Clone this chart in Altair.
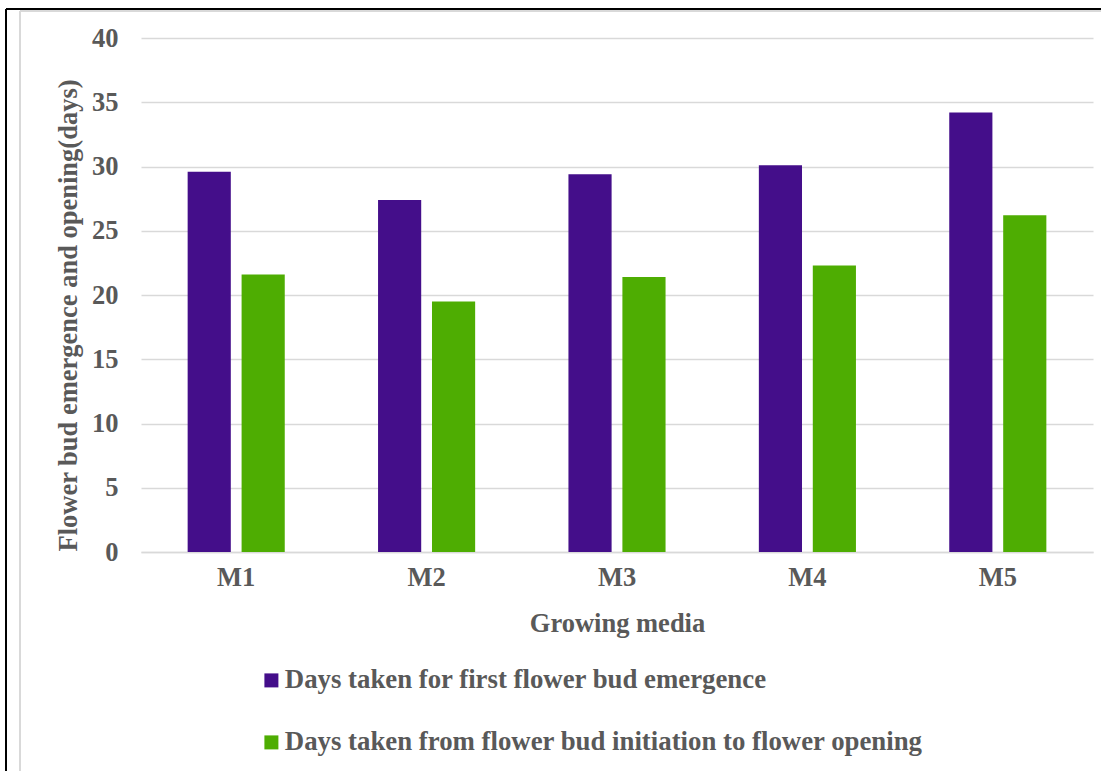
import altair as alt
import pandas as pd

# Growing media treatments and the two measured durations (days)
media = ["M1", "M2", "M3", "M4", "M5"]
series_names = [
    "Days taken for first flower bud emergence",
    "Days taken from flower bud initiation to flower opening",
]
bud_emergence = [29.6, 27.4, 29.4, 30.1, 34.2]
bud_to_opening = [21.6, 19.5, 21.4, 22.3, 26.2]
y_ticks = [0, 5, 10, 15, 20, 25, 30, 35, 40]
colors = ["#440E8A", "#4EAD02"]

rows = []
for m, a, b in zip(media, bud_emergence, bud_to_opening):
    rows.append({"media": m, "series": series_names[0], "days": a})
    rows.append({"media": m, "series": series_names[1], "days": b})
df = pd.DataFrame(rows)

FONT = "Liberation Serif"
TEXT = "#595959"
GRID = "#D9D9D9"
FS = 26.5

bars = alt.Chart(df).mark_bar().encode(
    x=alt.X(
        "media:N",
        sort=media,
        title="Growing media",
        scale=alt.Scale(paddingInner=0.49, paddingOuter=0.245),
        axis=alt.Axis(
            labelAngle=0,
            ticks=False,
            domainColor=GRID,
            domainWidth=1.5,
            labelPadding=12,
            titlePadding=20,
        ),
    ),
    xOffset=alt.XOffset(
        "series:N",
        sort=series_names,
        scale=alt.Scale(paddingInner=0.2, paddingOuter=0),
    ),
    y=alt.Y(
        "days:Q",
        title="Flower bud emergence and opening(days)",
        scale=alt.Scale(domain=[0, 40]),
        axis=alt.Axis(
            values=y_ticks,
            domain=False,
            ticks=False,
            gridColor=GRID,
            gridWidth=1.5,
            labelPadding=23,
            titlePadding=9,
            titleY=277,
        ),
    ),
    color=alt.Color(
        "series:N",
        sort=series_names,
        scale=alt.Scale(domain=series_names, range=colors),
        legend=alt.Legend(
            title=None,
            orient="none",
            legendX=117,
            legendY=629,
            padding=0,
            direction="vertical",
            symbolType="square",
            symbolSize=196,
            symbolStrokeWidth=0,
            labelOffset=0,
            rowPadding=34,
            labelFont=FONT,
            labelFontSize=26.8,
            labelFontWeight="bold",
            labelColor=TEXT,
            labelLimit=900,
        ),
    ),
)

# Outer frame lines around the figure
frame_black_left = alt.Chart(df).mark_rule(color="black", strokeWidth=2).encode(
    x=alt.value(-135), y=alt.value(-29), y2=alt.value(733)
)
frame_black_top = alt.Chart(df).mark_rule(color="black", strokeWidth=2).encode(
    x=alt.value(-135), x2=alt.value(960), y=alt.value(-29)
)
frame_gray_left = alt.Chart(df).mark_rule(color=GRID, strokeWidth=2).encode(
    x=alt.value(-121), y=alt.value(-27), y2=alt.value(733)
)
frame_gray_top = alt.Chart(df).mark_rule(color=GRID, strokeWidth=2).encode(
    x=alt.value(-121), x2=alt.value(960), y=alt.value(-27)
)

chart = (
    alt.layer(frame_gray_left, frame_gray_top, frame_black_left, frame_black_top, bars)
    .properties(
        width=952,
        height=514,
        autosize=alt.AutoSizeParams(type="none"),
        padding={"left": 141, "top": 38, "right": 8, "bottom": 219},
        background="white",
    )
    .configure_view(stroke=None)
    .configure_axis(
        labelFont=FONT,
        labelFontSize=FS,
        labelFontWeight="bold",
        labelColor=TEXT,
        titleFont=FONT,
        titleFontSize=FS,
        titleFontWeight="bold",
        titleColor=TEXT,
    )
)

chart.save("out.html", embed_options={"renderer": "svg", "actions": False})
